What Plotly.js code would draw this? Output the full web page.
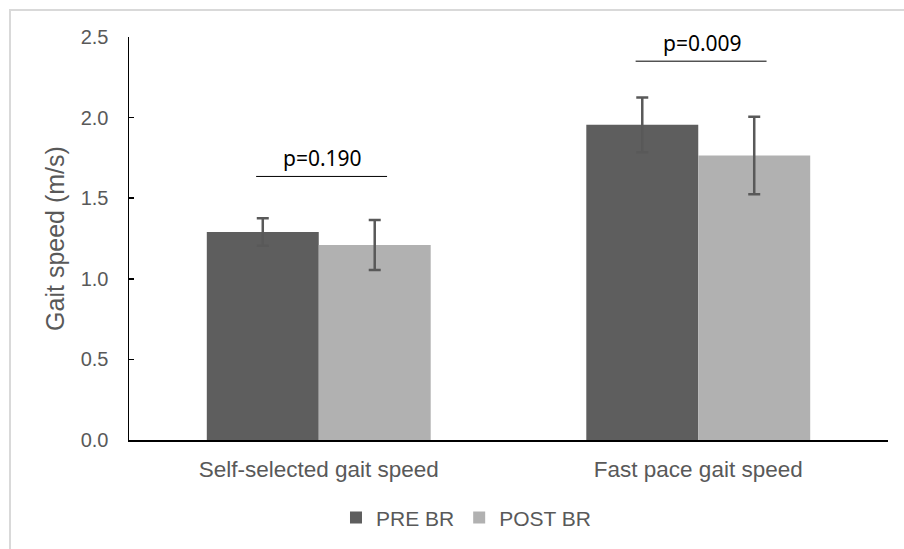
<!DOCTYPE html>
<html>
<head>
<meta charset="utf-8">
<script src="https://cdn.plot.ly/plotly-3.0.1.min.js"></script>
<style>
html,body{margin:0;padding:0;background:#fff;}
#frame{position:absolute;left:9px;top:9px;width:900px;height:545px;border-left:2px solid #d9d9d9;border-top:2px solid #d9d9d9;}
#chart{position:absolute;left:0;top:0;width:904px;height:549px;}
</style>
</head>
<body>
<div id="frame"></div>
<div id="chart"></div>
<script>
var categories = ["Self-selected gait speed", "Fast pace gait speed"];
var preValues = [1.29, 1.955];
var preErrors = [0.085, 0.17];
var postValues = [1.21, 1.765];
var postErrors = [0.155, 0.24];
var seriesNames = ["PRE BR", "POST BR"];
var pLabels = ["p=0.190", "p=0.009"];
var pHeights = [1.635, 2.35];
var yTicks = [0, 0.5, 1.0, 1.5, 2.0, 2.5];
var yTickText = ["0.0", "0.5", "1.0", "1.5", "2.0", "2.5"];

var errStyle = {type: "data", visible: true, color: "#595959", thickness: 2.5, width: 6};

var traces = [
  {type: "bar", name: seriesNames[0], x: categories, y: preValues,
   marker: {color: "#5e5e5e"},
   error_y: Object.assign({array: preErrors}, errStyle)},
  {type: "bar", name: seriesNames[1], x: categories, y: postValues,
   marker: {color: "#b1b1b1"},
   error_y: Object.assign({array: postErrors}, errStyle)}
];

var shapes = [];
var annotations = [];
for (var i = 0; i < categories.length; i++) {
  shapes.push({type: "line", xref: "x", yref: "y", x0: i - 0.165, x1: i + 0.18,
    y0: pHeights[i], y1: pHeights[i], line: {color: "#000", width: 1}});
  annotations.push({xref: "x", yref: "y", x: i + 0.01, y: pHeights[i], text: pLabels[i],
    showarrow: false, yanchor: "bottom", yshift: 2,
    font: {family: "Noto Sans", size: 21, color: "#000"}});
}

var layout = {
  width: 904, height: 549,
  paper_bgcolor: "rgba(0,0,0,0)", plot_bgcolor: "rgba(0,0,0,0)",
  margin: {l: 129, r: 16, t: 37, b: 108},
  barmode: "group", bargap: 0.41, bargroupgap: 0,
  font: {family: "Liberation Sans", color: "#595959", size: 20},
  showlegend: true,
  legend: {orientation: "h", x: 0.444, xanchor: "center", y: -0.19, yanchor: "middle",
    font: {size: 21, color: "#595959"}, itemwidth: 30, traceorder: "normal"},
  xaxis: {type: "category", showline: true, linecolor: "#000", linewidth: 1.5,
    ticks: "", showgrid: false, zeroline: false, ticklabelstandoff: 8,
    tickfont: {size: 22.5, color: "#595959"}},
  yaxis: {range: [0, 2.5], tickvals: yTicks, ticktext: yTickText, showline: true,
    linecolor: "#000", linewidth: 1.5, ticks: "inside", ticklen: 5, tickcolor: "#000",
    tickwidth: 1.5, showgrid: false, zeroline: false, ticklabelstandoff: 15,
    tickfont: {size: 20, color: "#595959"},
    title: {text: "Gait speed (m/s)", standoff: 9, font: {size: 25, color: "#595959"}}},
  shapes: shapes,
  annotations: annotations
};

Plotly.newPlot("chart", traces, layout, {displayModeBar: false, staticPlot: true});
</script>
</body>
</html>
